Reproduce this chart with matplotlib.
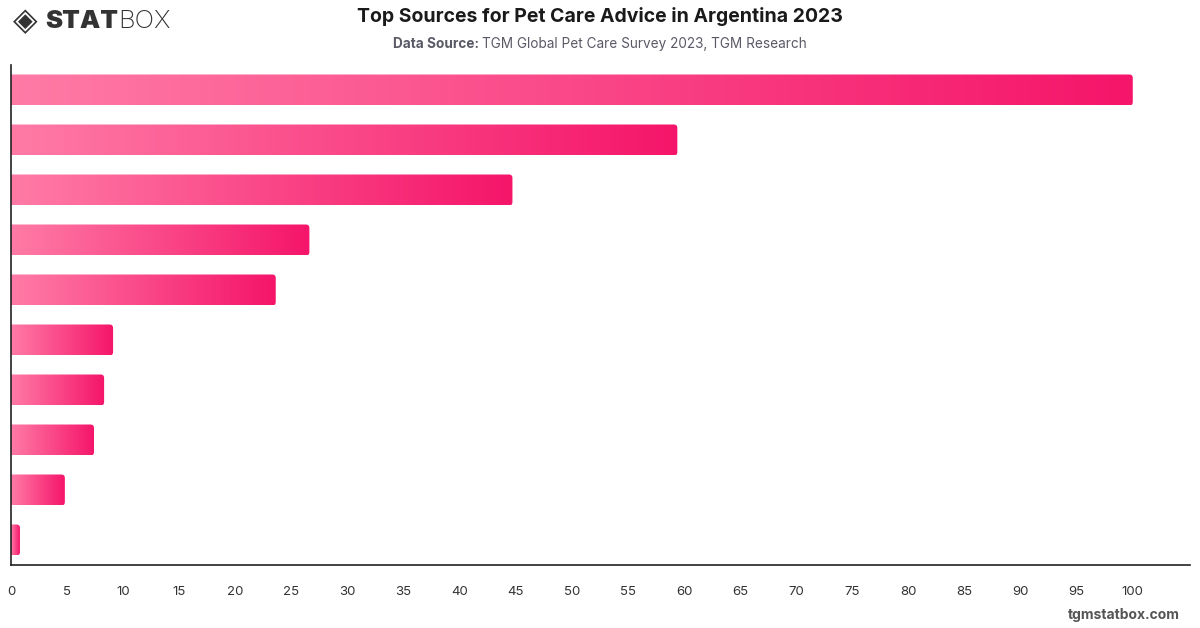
import numpy as np
import matplotlib
matplotlib.use("Agg")
import matplotlib.pyplot as plt
from matplotlib.patches import FancyBboxPatch
from matplotlib.colors import LinearSegmentedColormap

# values, top to bottom (category names are not shown in the chart)
values = [100, 59.4, 44.7, 26.6, 23.6, 9.1, 8.3, 7.4, 4.8, 0.8]
x_ticks = list(range(0, 101, 5))

title = "Top Sources for Pet Care Advice in Argentina 2023"
source = "TGM Global Pet Care Survey 2023, TGM Research"

plt.rcParams['font.family'] = ['Inter', 'DejaVu Sans']

W, H = 1200, 628
fig = plt.figure(figsize=(W / 100, H / 100), dpi=100)
ax = fig.add_axes([11 / W, 1 - 565 / H, (1190 - 11) / W, 500 / H])

xmax = 105.1
ax.set_xlim(0, xmax)
ax.set_ylim(len(values) - 0.5, -0.5)

cmap = LinearSegmentedColormap.from_list("pinkgrad", ["#ff7ba6", "#f5156a"])
grad = np.linspace(0, 1, 256).reshape(1, -1)

bar_h = 0.62
px_x = (1190 - 11) / xmax      # pixels per x unit
px_y = 500 / len(values)       # pixels per y unit
r = 3.5 / px_x
for i, v in enumerate(values):
    x0 = -0.4
    patch = FancyBboxPatch((x0, i - bar_h / 2), v - x0, bar_h,
                           boxstyle=f"round,pad=0,rounding_size={r}",
                           mutation_aspect=px_x / px_y,
                           facecolor="none", edgecolor="none")
    ax.add_patch(patch)
    im = ax.imshow(grad, cmap=cmap, aspect="auto", interpolation="bilinear",
                   extent=[0, v, i + bar_h / 2, i - bar_h / 2], zorder=2)
    im.set_clip_path(patch)

ax.set_xlim(0, xmax)
ax.set_ylim(len(values) - 0.5, -0.5)

for s in ["top", "right"]:
    ax.spines[s].set_visible(False)
for s in ["left", "bottom"]:
    ax.spines[s].set_color("#222222")
    ax.spines[s].set_linewidth(1.2)
    ax.spines[s].set_zorder(3)

ax.set_yticks([])
ax.set_xticks(x_ticks)
ax.set_xticklabels([str(t) for t in x_ticks], fontsize=9.5, color="#333333")
for lbl in ax.get_xticklabels()[:1]:
    lbl.set_x(0.25)
ax.tick_params(axis="x", length=0, pad=15)

# header
fig.text(0.5, 1 - 17 / H, title, ha="center", va="center",
         fontsize=14, fontweight="bold", color="#1a1a1a")
t1 = fig.text(393 / W, 1 - 44 / H, "Data Source: ", ha="left", va="center",
              fontsize=9.8, fontweight="bold", color="#5a5a66")
fig.canvas.draw()
bb = t1.get_window_extent()
fig.text(bb.x1 / W, 1 - 44 / H, source, ha="left", va="center",
         fontsize=9.8, color="#5a5a66")

# logo
fig.text(13 / W, 1 - 22 / H, "◈", ha="left", va="center",
         fontsize=23, color="#333333", family="DejaVu Sans")
t2 = fig.text(45 / W, 1 - 22 / H, "STAT", ha="left", va="center",
              fontsize=18.5, fontweight="black", color="#333333")
fig.canvas.draw()
bb2 = t2.get_window_extent()
fig.text(bb2.x1 / W, 1 - 22 / H, "BOX", ha="left", va="center",
         fontsize=18.5, fontweight="light", color="#333333")

fig.text(1180 / W, 1 - 615 / H, "tgmstatbox.com", ha="right", va="center",
         fontsize=10, fontweight="bold", color="#555555")

fig.savefig("out.png", dpi=100)
